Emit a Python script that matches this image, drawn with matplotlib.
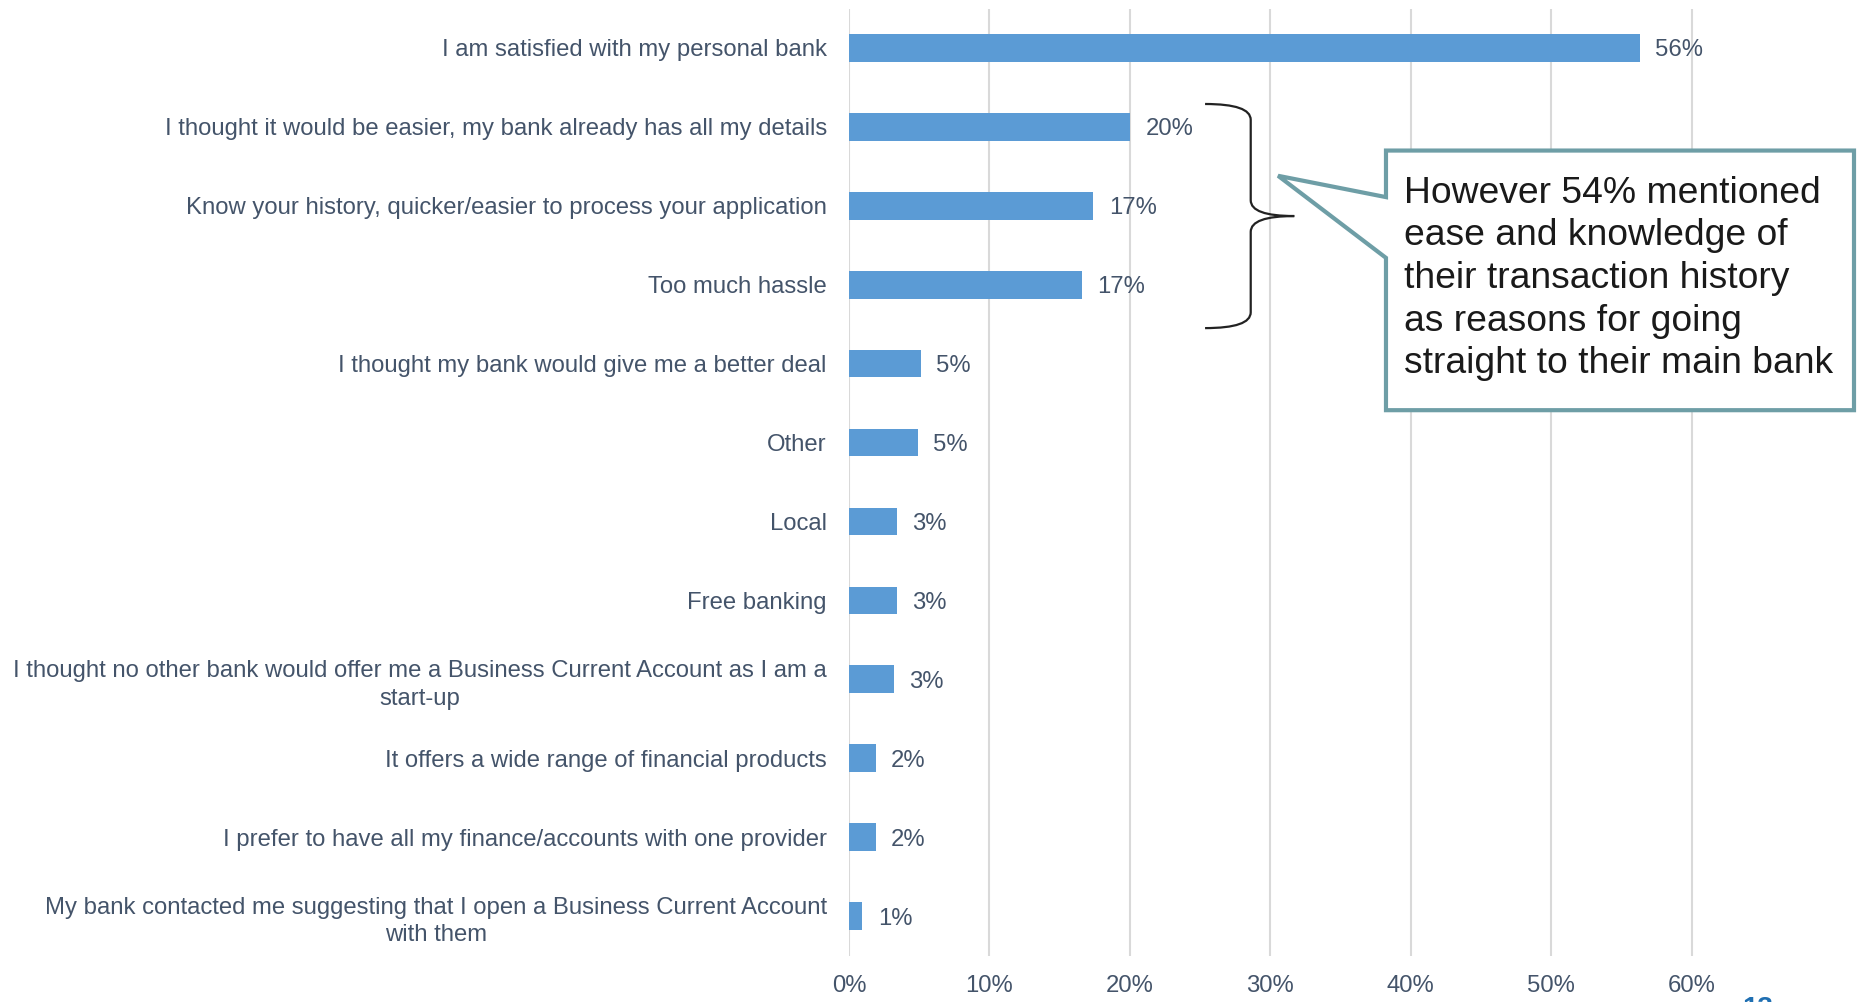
import matplotlib.pyplot as plt
from matplotlib.patches import Polygon, PathPatch
from matplotlib.path import Path
import numpy as np

# reasons for going straight to main bank (% of respondents)
reasons = [
    "I am satisfied with my personal bank",
    "I thought it would be easier, my bank already has all my details",
    "Know your history, quicker/easier to process your application",
    "Too much hassle",
    "I thought my bank would give me a better deal",
    "Other",
    "Local",
    "Free banking",
    "I thought no other bank would offer me a Business Current Account as I am a\nstart-up",
    "It offers a wide range of financial products",
    "I prefer to have all my finance/accounts with one provider",
    "My bank contacted me suggesting that I open a Business Current Account\nwith them",
]
shares = [56.3, 20.0, 17.4, 16.6, 5.1, 4.9, 3.4, 3.4, 3.2, 1.9, 1.9, 0.95]
xticks = [0, 10, 20, 30, 40, 50, 60]

callout = ("However 54% mentioned\nease and knowledge of\ntheir transaction history\n"
           "as reasons for going\nstraight to their main bank")

plt.rcParams['font.family'] = ['Liberation Sans', 'DejaVu Sans']
TXT = '#44546A'
BAR = '#5B9BD5'
EDGE = '#6E9EA6'
FS = 17.2

fig = plt.figure(figsize=(18.65, 10.02), dpi=100)
ax = fig.add_axes([849 / 1865, 1 - 955.5 / 1002, 913 / 1865, 947 / 1002])

y = np.arange(len(reasons))
ax.barh(y, shares, height=0.35, color=BAR, zorder=2)
ax.set_ylim(len(reasons) - 0.5, -0.5)
ax.set_xlim(0, 65)

for yi, v in zip(y, shares):
    ax.text(v + 1.1, yi, f"{v:.0f}%", va='center_baseline', ha='left',
            fontsize=FS, color=TXT)

ax.set_yticks(y)
ax.set_yticklabels(reasons, fontsize=FS, color=TXT)
for lbl in ax.get_yticklabels():
    lbl.set_multialignment('center')
    lbl.set_linespacing(1.35)
ax.set_xticks(xticks)
ax.set_xticklabels([f"{t}%" for t in xticks], fontsize=FS, color=TXT)
ax.tick_params(axis='y', length=0, pad=16)
ax.tick_params(axis='x', length=0, pad=14)
ax.grid(axis='x', color='#D9D9D9', linewidth=1.5, zorder=0)
for s in ax.spines.values():
    s.set_visible(False)

# curly brace grouping the three "ease" reasons
x0, x1, x2 = 25.35, 28.6, 31.7
yt, ym, yb = 0.71, 2.13, 3.55
verts = [(x0, yt), (x1, yt), (x1, yt + 0.2),
         (x1, ym - 0.2),
         (x1, ym), (x2, ym),
         (x1, ym), (x1, ym + 0.2),
         (x1, yb - 0.2),
         (x1, yb), (x0, yb)]
codes = [Path.MOVETO, Path.CURVE3, Path.CURVE3,
         Path.LINETO,
         Path.CURVE3, Path.CURVE3,
         Path.CURVE3, Path.CURVE3,
         Path.LINETO,
         Path.CURVE3, Path.CURVE3]
ax.add_patch(PathPatch(Path(verts, codes), fill=False, edgecolor='#222222',
                       linewidth=1.6, clip_on=False, zorder=3))

# speech-bubble callout
bx0, bx1, by0, by1 = 38.23, 71.55, 1.30, 4.59
bubble = [(bx0, by0), (bx1, by0), (bx1, by1), (bx0, by1),
          (bx0, 2.66), (30.55, 1.62), (bx0, 1.89)]
ax.add_patch(Polygon(bubble, closed=True, facecolor='white', edgecolor=EDGE,
                     linewidth=3, joinstyle='miter', clip_on=False, zorder=4))
ax.text(39.5, 2.92, callout, fontsize=26.8, color='#1A1A1A', ha='left', va='center',
        linespacing=1.285, zorder=5, clip_on=False)

# page number, cut off at the bottom edge
fig.text(1742 / 1865, 1 - 996 / 1002, "13", fontsize=20, color='#1F6FB2',
         ha='left', va='top', fontweight='bold')

fig.savefig('out.png', dpi=100)
